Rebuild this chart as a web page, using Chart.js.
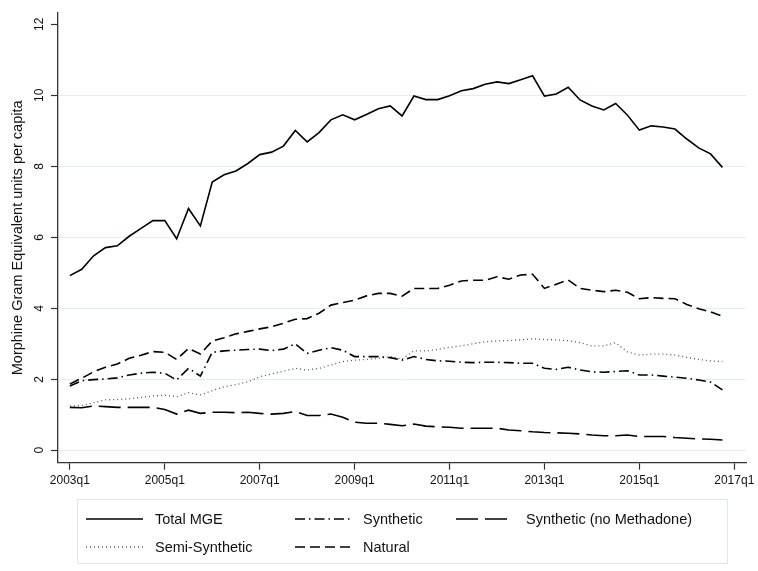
<!DOCTYPE html>
<html>
<head>
<meta charset="utf-8">
<script src="https://cdn.jsdelivr.net/npm/chart.js@4/dist/chart.umd.min.js"></script>
<style>
  html, body { margin: 0; padding: 0; background: #ffffff; }
  #c { display: block; }
</style>
</head>
<body>
<canvas id="c" width="758" height="571"></canvas>
<script>
// ---- data (quarter index 0 = 2003q1 ... 55 = 2016q4) ----
const firstYear = 2003;
const totalMGE = [4.92,5.10,5.48,5.71,5.76,6.03,6.25,6.47,6.47,5.96,6.81,6.32,7.56,7.76,7.87,8.08,
  8.33,8.40,8.57,9.01,8.69,8.95,9.31,9.45,9.31,9.46,9.62,9.70,9.42,9.98,9.88,9.88,9.99,10.13,10.19,10.31,
  10.38,10.33,10.44,10.55,9.98,10.04,10.23,9.87,9.70,9.59,9.77,9.44,9.02,9.14,9.11,9.05,8.77,8.52,8.35,7.97];
const synthetic = [1.81,1.96,1.99,2.01,2.04,2.12,2.17,2.20,2.17,1.98,2.31,2.09,2.76,2.80,2.82,2.84,
  2.85,2.81,2.85,3.00,2.73,2.82,2.89,2.82,2.64,2.64,2.64,2.61,2.54,2.64,2.56,2.52,2.51,2.48,2.47,2.48,
  2.48,2.47,2.45,2.45,2.31,2.28,2.34,2.26,2.21,2.20,2.22,2.24,2.12,2.12,2.09,2.06,2.03,1.98,1.92,1.70];
const syntheticNoMethadone = [1.21,1.20,1.25,1.23,1.21,1.21,1.21,1.21,1.15,1.02,1.13,1.04,1.07,1.07,1.06,1.07,
  1.04,1.02,1.04,1.09,0.98,0.98,1.02,0.93,0.79,0.76,0.76,0.73,0.69,0.74,0.68,0.66,0.65,0.62,0.62,0.62,
  0.62,0.57,0.55,0.52,0.50,0.49,0.48,0.46,0.43,0.41,0.41,0.43,0.39,0.39,0.39,0.36,0.34,0.32,0.31,0.29];
const semiSynthetic = [1.25,1.26,1.34,1.42,1.43,1.45,1.49,1.53,1.55,1.51,1.62,1.56,1.68,1.79,1.85,1.93,
  2.07,2.15,2.23,2.31,2.26,2.31,2.40,2.50,2.54,2.56,2.59,2.64,2.57,2.80,2.80,2.84,2.90,2.94,3.00,3.06,
  3.08,3.09,3.11,3.14,3.12,3.11,3.09,3.03,2.94,2.94,3.03,2.77,2.68,2.71,2.71,2.68,2.62,2.56,2.52,2.50];
const natural = [1.87,2.03,2.21,2.34,2.43,2.59,2.68,2.78,2.76,2.56,2.87,2.71,3.08,3.17,3.28,3.35,
  3.42,3.48,3.58,3.69,3.71,3.86,4.09,4.16,4.23,4.35,4.42,4.42,4.34,4.56,4.56,4.56,4.65,4.77,4.79,4.79,
  4.89,4.82,4.94,4.96,4.56,4.68,4.80,4.56,4.51,4.47,4.51,4.45,4.27,4.30,4.28,4.27,4.11,3.99,3.90,3.78];

const xTickValues = [0, 8, 16, 24, 32, 40, 48, 56];
const xTickLabels = ['2003q1','2005q1','2007q1','2009q1','2011q1','2013q1','2015q1','2017q1'];
const yTickValues = [0, 2, 4, 6, 8, 10, 12];
const yTickLabels = ['0','2','4','6','8','10','12'];
const yTitle = 'Morphine Gram Equivalent units per capita';

const seriesNames = ['Total MGE','Synthetic','Synthetic (no Methadone)','Semi-Synthetic','Natural'];
const seriesValues = [totalMGE, synthetic, syntheticNoMethadone, semiSynthetic, natural];

// ---- styles ----
const FONT = '"Liberation Sans", Arial, Helvetica, sans-serif';
const styles = [
  { color: '#000000', width: 1.6, dash: [] },
  { color: '#000000', width: 1.6, dash: [10, 4, 1.5, 4] },
  { color: '#000000', width: 1.6, dash: [22, 7] },
  { color: '#555555', width: 1.3, dash: [1, 3] },
  { color: '#000000', width: 1.6, dash: [10, 5] }
];

Chart.defaults.font.family = FONT;

const datasets = seriesNames.map((name, k) => ({
  label: name,
  data: seriesValues[k].map((v, i) => ({ x: i, y: v })),
  borderColor: styles[k].color,
  borderWidth: styles[k].width,
  borderDash: styles[k].dash,
  pointRadius: 0,
  tension: 0,
  fill: false
}));

// legend drawn in Stata-like grid
const legendLayout = {
  box: { x: 77.5, y: 499.5, w: 650, h: 64 },
  rows: [519, 547],
  cols: [ { s: 86, e: 143, t: 155 }, { s: 295, e: 352, t: 363 }, { s: 456, e: 513, t: 526 } ],
  order: [[0,0],[0,1],[0,2],[1,0],[1,1]] // [row, col] for each series
};

const stataLegend = {
  id: 'stataLegend',
  afterDraw(chart) {
    const c = chart.ctx;
    const L = legendLayout;
    c.save();
    c.strokeStyle = '#dfe7ea';
    c.lineWidth = 1;
    c.strokeRect(L.box.x, L.box.y, L.box.w, L.box.h);
    c.font = '14.5px ' + FONT;
    c.textBaseline = 'middle';
    c.textAlign = 'left';
    seriesNames.forEach((name, k) => {
      const [r, col] = L.order[k];
      const y = L.rows[r];
      const C = L.cols[col];
      c.beginPath();
      c.setLineDash(styles[k].dash);
      c.strokeStyle = styles[k].color;
      c.lineWidth = styles[k].width;
      c.moveTo(C.s, y);
      c.lineTo(C.e, y);
      c.stroke();
      c.setLineDash([]);
      c.fillStyle = '#111111';
      c.fillText(name, C.t, y + 0.5);
    });
    c.restore();
  }
};

new Chart(document.getElementById('c'), {
  type: 'line',
  data: { datasets },
  plugins: [stataLegend],
  options: {
    responsive: false,
    animation: false,
    events: [],
    layout: { padding: { top: 13, right: 11, bottom: 78.3, left: 0 } },
    plugins: { legend: { display: false }, tooltip: { enabled: false } },
    scales: {
      x: {
        type: 'linear',
        min: -1,
        max: 57,
        afterBuildTicks: s => { s.ticks = xTickValues.map(v => ({ value: v })); },
        afterFit: s => { s.height = 30; },
        ticks: {
          autoSkip: false, maxRotation: 0, minRotation: 0, padding: 3.5,
          color: '#111111', font: { size: 12, family: FONT },
          callback: v => xTickLabels[xTickValues.indexOf(v)]
        },
        grid: { drawOnChartArea: false, drawTicks: true, tickLength: 7, tickColor: '#333333', tickWidth: 1.2 },
        border: { display: true, color: '#333333', width: 1.3 }
      },
      y: {
        type: 'linear',
        min: -0.35,
        max: 12.32,
        afterBuildTicks: s => { s.ticks = yTickValues.map(v => ({ value: v })); },
        afterFit: s => { s.width = 58; },
        ticks: {
          minRotation: 90, maxRotation: 90, crossAlign: 'center', padding: 4.3,
          color: '#111111', font: { size: 12, family: FONT },
          callback: v => yTickLabels[yTickValues.indexOf(v)]
        },
        grid: {
          color: c => (c.tick && c.tick.value === 12) ? 'rgba(0,0,0,0)' : '#e3ecef',
          lineWidth: 1,
          drawTicks: true, tickLength: 7, tickColor: '#333333', tickWidth: 1.2
        },
        border: { display: true, color: '#333333', width: 1.3 },
        title: {
          display: true, text: yTitle, color: '#111111',
          font: { size: 14.5, family: FONT }, padding: { top: 9, bottom: 0 }
        }
      }
    }
  }
});
</script>
</body>
</html>
